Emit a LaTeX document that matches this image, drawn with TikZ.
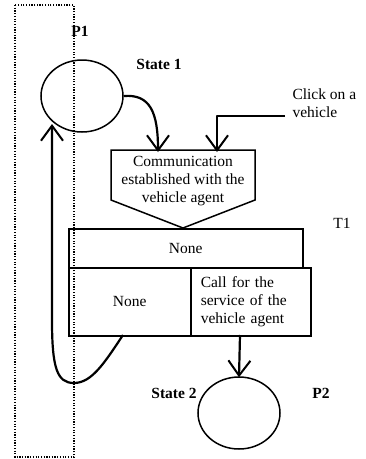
\documentclass[tikz,border=0pt]{standalone}
\usepackage{fontspec}
\setmainfont{Liberation Serif}
\usetikzlibrary{arrows.meta,shapes.geometric}
\begin{document}
\begin{tikzpicture}[x=1pt,y=-1pt,
  every node/.style={font=\fontsize{15.5}{18}\selectfont},
  bold/.style={font=\fontsize{15.5}{18}\selectfont\bfseries},
  place/.style={draw,line width=1.5pt,ellipse,minimum width=82pt,minimum height=72pt,inner sep=0pt},
  cell/.style={draw,line width=1.5pt,rectangle,anchor=north west,inner sep=0pt},
  arr/.style={line width=2.2pt,-{Straight Barb[length=15pt,width=22pt,line width=2pt]},line join=round},
  dotline/.style={line width=1.3pt,dash pattern=on 1.2pt off 1.5pt}
]
\useasboundingbox (0,0) rectangle (366,459);
% dotted P1 region
\draw[dotline] (15,5) rectangle (74,457);
\node[bold] (p1) at (80,31) {P1};
% places
\node[place] (s1) at (82,96) {};
\node[bold] (s1l) at (159,64) {State 1};
\node[place] (s2) at (239,413) {};
\node[bold] (s2l) at (174,393) {State 2};
\node[bold] (p2) at (321,393) {P2};
% event pentagon
\draw[line width=1.5pt,line join=miter] (111,150) -- (255,150) -- (255,200) -- (183,228) -- (111,200) -- cycle;
\node[align=center] (ev) at (183,181) {Communication\\established with the\\vehicle agent};
\coordinate (evl) at (158,150);
\coordinate (evr) at (217,150);
% click
\node[align=left,anchor=west] (click) at (289,103) {Click on a\\vehicle};
\coordinate (clk) at (285,116);
% table T1
\node (t1) at (342,223) {T1};
\node[cell,minimum width=234pt,minimum height=39pt] (top) at (68,228) {None};
\node[cell,minimum width=122pt,minimum height=68pt] (bl) at (68,267) {None};
\node[cell,minimum width=112pt,minimum height=68pt,text width=100pt,inner xsep=10pt,align=left] (br) at (190,267) {Call for the\\service of the\\vehicle agent};
\coordinate (tb) at (123,335);
\coordinate (tr) at (240,335);
% connectors
\draw[arr] (s1.east) .. controls (150,94) and (158,112) .. ([yshift=-2pt]evl);
\draw[arr] (clk) -- (217,116) -- ([yshift=-2pt]evr);
\draw[arr] (tr) -- ([yshift=-1pt]s2.north);
\draw[arr] (tb) .. controls (105,362) and (92,383) .. (74,383)
  .. controls (57,383) and (52,368) .. (52,320) -- (52,124);
\end{tikzpicture}
\end{document}
